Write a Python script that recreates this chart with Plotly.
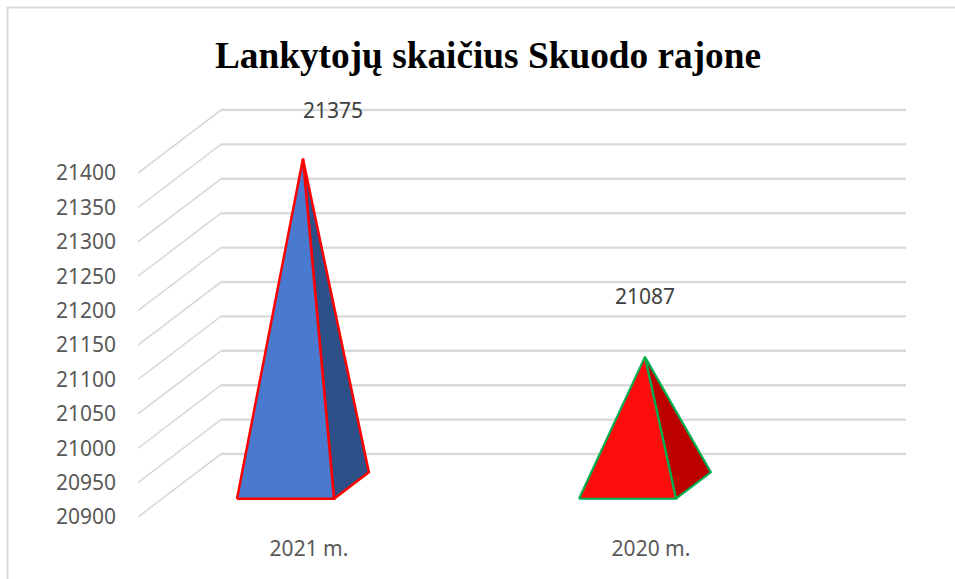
import plotly.graph_objects as go

# --- data ---
categories = ["2021 m.", "2020 m."]
values = [21375, 21087]
tick_values = [20900, 20950, 21000, 21050, 21100, 21150, 21200, 21250, 21300, 21350, 21400]
title_text = "Lankytojų skaičius Skuodo rajone"

# --- styles ---
front_colors = ["#4A7AD0", "#FF0D0D"]
side_colors = ["#2E5088", "#BC0000"]
edge_colors = ["#FF0000", "#00B050"]
edge_widths = [2.5, 2.2]
label_shift = [(24, 80), (-6, 92)]

W, H = 955, 579
ML, MR, MT, MB = 138, 47, 100, 59
PX_X = 342.0
PX_Y = 0.688
X_PX0, Y_PX0 = 309.0, 517.0
DX, DY = 83 / PX_X, 63 / PX_Y  # oblique depth of the 3D floor, in axis units
D1, D2, DM = 0.29, 0.71, 0.5
HALF = 48.5 / PX_X
CX = -23.5 / PX_X - D1 * DX
X_LEFT = (ML - X_PX0) / PX_X
X_RIGHT = (906 - X_PX0) / PX_X
BASE = tick_values[0]

fig = go.Figure()

dx_, dy_, bx_, by_ = [], [], [], []
for v in tick_values:
    dx_ += [X_LEFT, X_LEFT + DX, None]
    dy_ += [v, v + DY, None]
    bx_ += [X_LEFT + DX, X_RIGHT, None]
    by_ += [v + DY, v + DY, None]
fig.add_trace(go.Scatter(x=dx_, y=dy_, mode="lines", cliponaxis=False, hoverinfo="skip",
                         line=dict(color="#D9D9D9", width=1.6), showlegend=False))
fig.add_trace(go.Scatter(x=bx_, y=by_, mode="lines", cliponaxis=False, hoverinfo="skip",
                         line=dict(color="#D9D9D9", width=2.4), showlegend=False))

for i, v in enumerate(values):
    c = i + CX
    fl = (c - HALF + D1 * DX, BASE + D1 * DY)
    fr = (c + HALF + D1 * DX, BASE + D1 * DY)
    br = (c + HALF + D2 * DX, BASE + D2 * DY)
    apex = (c + DM * DX, v + DM * DY)
    for pts, col in (((fr, br, apex, fr), side_colors[i]), ((fl, fr, apex, fl), front_colors[i])):
        fig.add_trace(go.Scatter(x=[p[0] for p in pts], y=[p[1] for p in pts], mode="lines",
                                 fill="toself", fillcolor=col, cliponaxis=False,
                                 line=dict(color=edge_colors[i], width=edge_widths[i]),
                                 showlegend=False, name=categories[i]))

annotations = [
    dict(x=i, y=v, text=str(v), showarrow=False, xshift=label_shift[i][0], yshift=label_shift[i][1],
         font=dict(family="Noto Sans", size=21, color="#404040"))
    for i, v in enumerate(values)
]

def px(x):
    return (x - ML) / (W - ML - MR)

def py(y):
    return 1 - (y - MT) / (H - MT - MB)

shapes = [
    dict(type="line", xref="paper", yref="paper", x0=px(7), x1=px(955), y0=py(7.5), y1=py(7.5),
         line=dict(color="#D9D9D9", width=2)),
    dict(type="line", xref="paper", yref="paper", x0=px(7.5), x1=px(7.5), y0=py(7), y1=py(579),
         line=dict(color="#D9D9D9", width=2)),
]

fig.update_layout(
    width=W, height=H, margin=dict(l=ML, r=MR, t=MT, b=MB, autoexpand=False),
    paper_bgcolor="white", plot_bgcolor="rgba(0,0,0,0)", showlegend=False,
    title=dict(text=f"<b>{title_text}</b>", x=488 / W, xanchor="center", xref="container",
               y=1 - 54.5 / H, yanchor="middle", yref="container",
               font=dict(family="Liberation Serif", size=37.3, color="#000000")),
    annotations=annotations, shapes=shapes,
    xaxis=dict(range=[X_LEFT, (W - MR - X_PX0) / PX_X], tickmode="array", tickvals=[0, 1],
               ticktext=categories, showgrid=False, zeroline=False, showline=False, ticks="",
               ticklabelstandoff=14, tickfont=dict(family="Noto Sans", size=21, color="#595959")),
    yaxis=dict(range=[BASE - (H - MB - Y_PX0) / PX_Y, BASE + (Y_PX0 - MT) / PX_Y], tickmode="array",
               tickvals=tick_values, ticktext=[str(t) for t in tick_values], showgrid=False,
               zeroline=False, showline=False, ticks="", ticklabelstandoff=21,
               tickfont=dict(family="Noto Sans", size=21, color="#595959")),
)

# The reference fills the window edge to edge, so drop the page's default 8px body margin.
fig.write_html("out.html", post_script="document.body.style.margin='0';",
               config=dict(displayModeBar=False))
